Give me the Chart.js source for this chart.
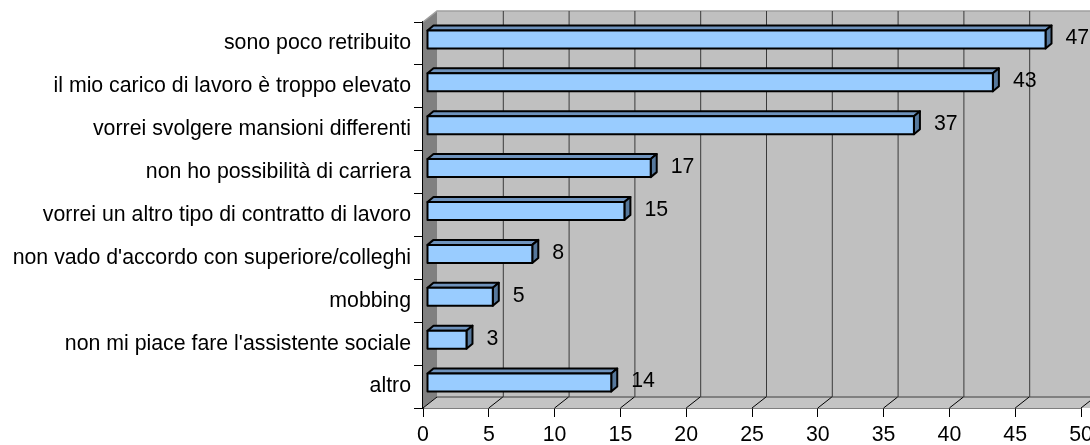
<!DOCTYPE html>
<html>
<head>
<meta charset="utf-8">
<script src="https://cdn.jsdelivr.net/npm/chart.js@4/dist/chart.umd.min.js"></script>
<style>
  html, body { margin: 0; padding: 0; background: #ffffff; }
  #wrap { width: 1090px; height: 445px; position: relative; }
</style>
</head>
<body>
<div id="wrap"><canvas id="chart"></canvas></div>
<script>
// dati
const categories = [
  'sono poco retribuito',
  'il mio carico di lavoro è troppo elevato',
  'vorrei svolgere mansioni differenti',
  'non ho possibilità di carriera',
  'vorrei un altro tipo di contratto di lavoro',
  "non vado d'accordo con superiore/colleghi",
  'mobbing',
  "non mi piace fare l'assistente sociale",
  'altro'
];
const values = [47, 43, 37, 17, 15, 8, 5, 3, 14];
const xTicks = [0, 5, 10, 15, 20, 25, 30, 35, 40, 45, 50];

const FONT = "'Liberation Sans', Arial, sans-serif";
const FONT_SIZE = 21.3;

// profondità 3D delle pareti e delle barre
const WALL = { dx: 14, dy: -11 };
const BAR_SHIFT = { dx: 4, dy: -4 };
const BAR_DEPTH = { dx: 6, dy: -5 };

const walls3d = {
  id: 'walls3d',
  beforeDatasetsDraw(chart) {
    const { ctx, chartArea: a, scales: { x } } = chart;
    ctx.save();
    // parete di fondo
    ctx.fillStyle = '#c0c0c0';
    ctx.fillRect(a.left + WALL.dx, a.top + WALL.dy, a.right - a.left + 20, a.bottom - a.top);
    // parete sinistra
    ctx.fillStyle = '#808080';
    ctx.beginPath();
    ctx.moveTo(a.left, a.top);
    ctx.lineTo(a.left + WALL.dx, a.top + WALL.dy);
    ctx.lineTo(a.left + WALL.dx, a.bottom + WALL.dy);
    ctx.lineTo(a.left, a.bottom);
    ctx.closePath();
    ctx.fill();
    // pavimento
    ctx.fillStyle = '#c4c4c4';
    ctx.beginPath();
    ctx.moveTo(a.left, a.bottom);
    ctx.lineTo(a.left + WALL.dx, a.bottom + WALL.dy);
    ctx.lineTo(a.right + 40, a.bottom + WALL.dy);
    ctx.lineTo(a.right + 40, a.bottom);
    ctx.closePath();
    ctx.fill();
    // bordo posteriore del pavimento
    ctx.strokeStyle = '#808080';
    ctx.lineWidth = 2;
    ctx.beginPath();
    ctx.moveTo(a.left + WALL.dx, a.bottom + WALL.dy);
    ctx.lineTo(a.right + 40, a.bottom + WALL.dy);
    ctx.stroke();
    // bordo superiore
    ctx.strokeStyle = '#a0a0a0';
    ctx.lineWidth = 1.5;
    ctx.beginPath();
    ctx.moveTo(a.left, a.top);
    ctx.lineTo(a.left + WALL.dx, a.top + WALL.dy);
    ctx.lineTo(a.right + 40, a.top + WALL.dy);
    ctx.stroke();
    // griglia sulla parete di fondo + diagonali sul pavimento
    xTicks.forEach(v => {
      const px = x.getPixelForValue(v);
      ctx.strokeStyle = '#000000';
      ctx.lineWidth = 1;
      ctx.beginPath();
      ctx.moveTo(px, a.bottom);
      ctx.lineTo(px + WALL.dx, a.bottom + WALL.dy);
      ctx.stroke();
      if (v > 0) {
        ctx.strokeStyle = '#3a3a3a';
        ctx.beginPath();
        ctx.moveTo(px + WALL.dx + 0.5, a.top + WALL.dy);
        ctx.lineTo(px + WALL.dx + 0.5, a.bottom + WALL.dy);
        ctx.stroke();
      }
    });
    ctx.restore();
  },
  afterDatasetsDraw(chart) {
    const { ctx } = chart;
    const meta = chart.getDatasetMeta(0);
    ctx.save();
    ctx.lineWidth = 2;
    ctx.lineJoin = 'round';
    ctx.strokeStyle = '#000000';
    meta.data.forEach((bar, i) => {
      const h = bar.height;
      const x0 = bar.base + BAR_SHIFT.dx;
      const x1 = bar.x + BAR_SHIFT.dx;
      const y0 = bar.y - h / 2 + BAR_SHIFT.dy;
      const y1 = y0 + h;
      const ddx = BAR_DEPTH.dx, ddy = BAR_DEPTH.dy;
      // faccia superiore
      ctx.fillStyle = '#6f93bd';
      ctx.beginPath();
      ctx.moveTo(x0, y0);
      ctx.lineTo(x0 + ddx, y0 + ddy);
      ctx.lineTo(x1 + ddx, y0 + ddy);
      ctx.lineTo(x1, y0);
      ctx.closePath();
      ctx.fill();
      ctx.stroke();
      // faccia laterale
      ctx.fillStyle = '#56789c';
      ctx.beginPath();
      ctx.moveTo(x1, y0);
      ctx.lineTo(x1 + ddx, y0 + ddy);
      ctx.lineTo(x1 + ddx, y1 + ddy);
      ctx.lineTo(x1, y1);
      ctx.closePath();
      ctx.fill();
      ctx.stroke();
      // faccia frontale
      ctx.fillStyle = '#99ccff';
      ctx.fillRect(x0, y0, x1 - x0, h);
      ctx.strokeRect(x0, y0, x1 - x0, h);
      // etichetta valore
      ctx.fillStyle = '#000000';
      ctx.font = FONT_SIZE + 'px ' + FONT;
      ctx.textAlign = 'left';
      ctx.textBaseline = 'middle';
      ctx.fillText(String(values[i]), x1 + ddx + 14, (y0 + y1) / 2 - 1);
    });
    ctx.restore();
  }
};

new Chart(document.getElementById('chart'), {
  type: 'bar',
  data: {
    labels: categories,
    datasets: [{
      data: values,
      backgroundColor: 'rgba(0,0,0,0)',
      borderWidth: 0,
      barPercentage: 0.42,
      categoryPercentage: 1
    }]
  },
  options: {
    indexAxis: 'y',
    responsive: true,
    maintainAspectRatio: false,
    animation: false,
    layout: { padding: { top: 22, right: 9, left: 0, bottom: 0 } },
    plugins: {
      legend: { display: false },
      tooltip: { enabled: false }
    },
    scales: {
      x: {
        min: 0,
        max: 50,
        afterBuildTicks: (scale) => { scale.ticks = xTicks.map(v => ({ value: v })); },
        afterFit: (scale) => { scale.height = 37; scale.paddingLeft = 0; scale.paddingRight = 0; },
        grid: { drawOnChartArea: false, drawTicks: true, tickLength: 9, color: '#000000' },
        border: { display: true, color: '#000000', width: 1.5 },
        ticks: {
          color: '#000000',
          padding: 5,
          maxRotation: 0,
          autoSkip: false,
          font: { family: FONT, size: FONT_SIZE }
        }
      },
      y: {
        afterFit: (scale) => { scale.width = 423; },
        grid: { drawOnChartArea: false, drawTicks: true, tickLength: 9, color: '#000000', offset: true },
        border: { display: true, color: '#000000', width: 1.5 },
        ticks: {
          color: '#000000',
          padding: 3,
          autoSkip: false,
          font: { family: FONT, size: FONT_SIZE }
        }
      }
    }
  },
  plugins: [walls3d]
});
</script>
</body>
</html>
